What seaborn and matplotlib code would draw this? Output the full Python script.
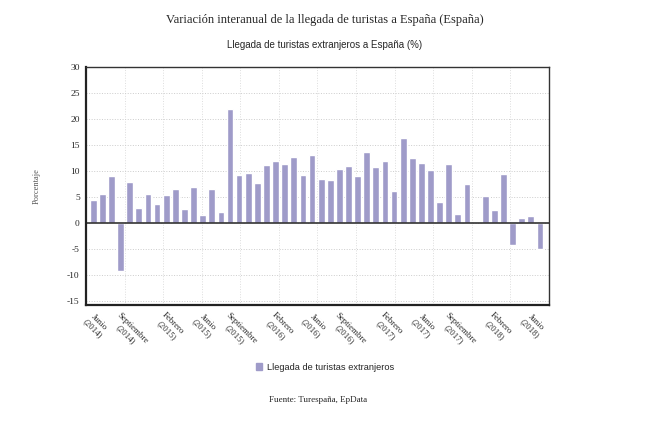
import numpy as np
import pandas as pd
import matplotlib
matplotlib.use('Agg')
import matplotlib.pyplot as plt
import seaborn as sns
from matplotlib.patches import Patch

# monthly values, Jun 2014 .. Jul 2018 (Dec 2017 missing)
valores = [4.4, 5.5, 9.0, -9.3, 7.8, 2.8, 5.5, 3.6, 5.3, 6.6,
           2.6, 6.9, 1.5, 6.5, 2.0, 21.9, 9.2, 9.6, 7.7, 11.2,
           12.0, 11.4, 12.6, 9.2, 13.0, 8.5, 8.2, 10.4, 11.0, 9.1,
           13.6, 10.7, 11.9, 6.2, 16.4, 12.5, 11.6, 10.1, 4.0, 11.4,
           1.8, 7.4, np.nan, 5.2, 2.5, 9.5, -4.3, 1.0, 1.3, -5.0]
tick_idx = [0, 3, 8, 12, 15, 20, 24, 27, 32, 36, 39, 44, 48]
tick_labels = ['Junio\n(2014)', 'Septiembre\n(2014)', 'Febrero\n(2015)', 'Junio\n(2015)',
               'Septiembre\n(2015)', 'Febrero\n(2016)', 'Junio\n(2016)', 'Septiembre\n(2016)',
               'Febrero\n(2017)', 'Junio\n(2017)', 'Septiembre\n(2017)', 'Febrero\n(2018)',
               'Junio\n(2018)']

df = pd.DataFrame({'pos': range(len(valores)), 'valor': valores})
color = '#9f9bc9'

sns.set_style('white')
plt.rcParams['axes.unicode_minus'] = False
fig = plt.figure(figsize=(6.5, 4.38), dpi=100)
ax = fig.add_axes([0.1323, 0.3037, 0.7123, 0.5433])

sns.barplot(data=df, x='pos', y='valor', color=color, width=0.74,
            saturation=1, ax=ax, native_scale=True)

ax.set_xlim(-0.8, 50)
ax.set_ylim(-15.8, 30)
ax.set_yticks(range(-15, 31, 5))
ax.set_xticks(tick_idx)
ax.set_xticklabels(tick_labels, rotation=-45, ha='left', va='top',
                   rotation_mode='anchor', multialignment='center',
                   family='Liberation Serif', fontsize=6.3)
for lab in ax.get_yticklabels():
    lab.set_family('Liberation Serif')
    lab.set_fontsize(6.8)
ax.set_xticks(np.linspace(-0.8, 50, 13), minor=True)
ax.tick_params(axis='x', which='minor', length=0)
ax.tick_params(axis='both', which='major', length=3, width=1, color='#333333', pad=1.5)
ax.grid(axis='x', which='minor', color='#dddddd', lw=0.7, ls=':')
ax.grid(axis='y', which='major', color='#cccccc', lw=0.7, ls=':')
ax.set_axisbelow(True)
ax.axhline(0, color='#333333', lw=1.2)

for s in ['left', 'bottom']:
    ax.spines[s].set_linewidth(1.6)
    ax.spines[s].set_color('#222222')
for s in ['top', 'right']:
    ax.spines[s].set_linewidth(1.0)
    ax.spines[s].set_color('#333333')

ax.set_xlabel('')
ax.set_ylabel('Porcentaje', family='Liberation Serif', fontsize=6, color='#555555', labelpad=19)

fig.text(0.5, 0.954, 'Variación interanual de la llegada de turistas a España (España)',
         ha='center', va='center', family='Liberation Serif', fontsize=9)
fig.text(0.5, 0.897, 'Llegada de turistas extranjeros a España (%)',
         ha='center', va='center', family='Liberation Sans', fontsize=7)
fig.legend(handles=[Patch(color=color, label='Llegada de turistas extranjeros')],
           loc='center', bbox_to_anchor=(0.5, 0.162), frameon=False,
           prop={'family': 'Liberation Sans', 'size': 6.7},
           handlelength=0.7, handleheight=0.7, handletextpad=0.5)
fig.text(0.49, 0.087, 'Fuente: Turespaña, EpData', ha='center', va='center',
         family='Liberation Serif', fontsize=6.5)

fig.savefig('out.png', dpi=100)
